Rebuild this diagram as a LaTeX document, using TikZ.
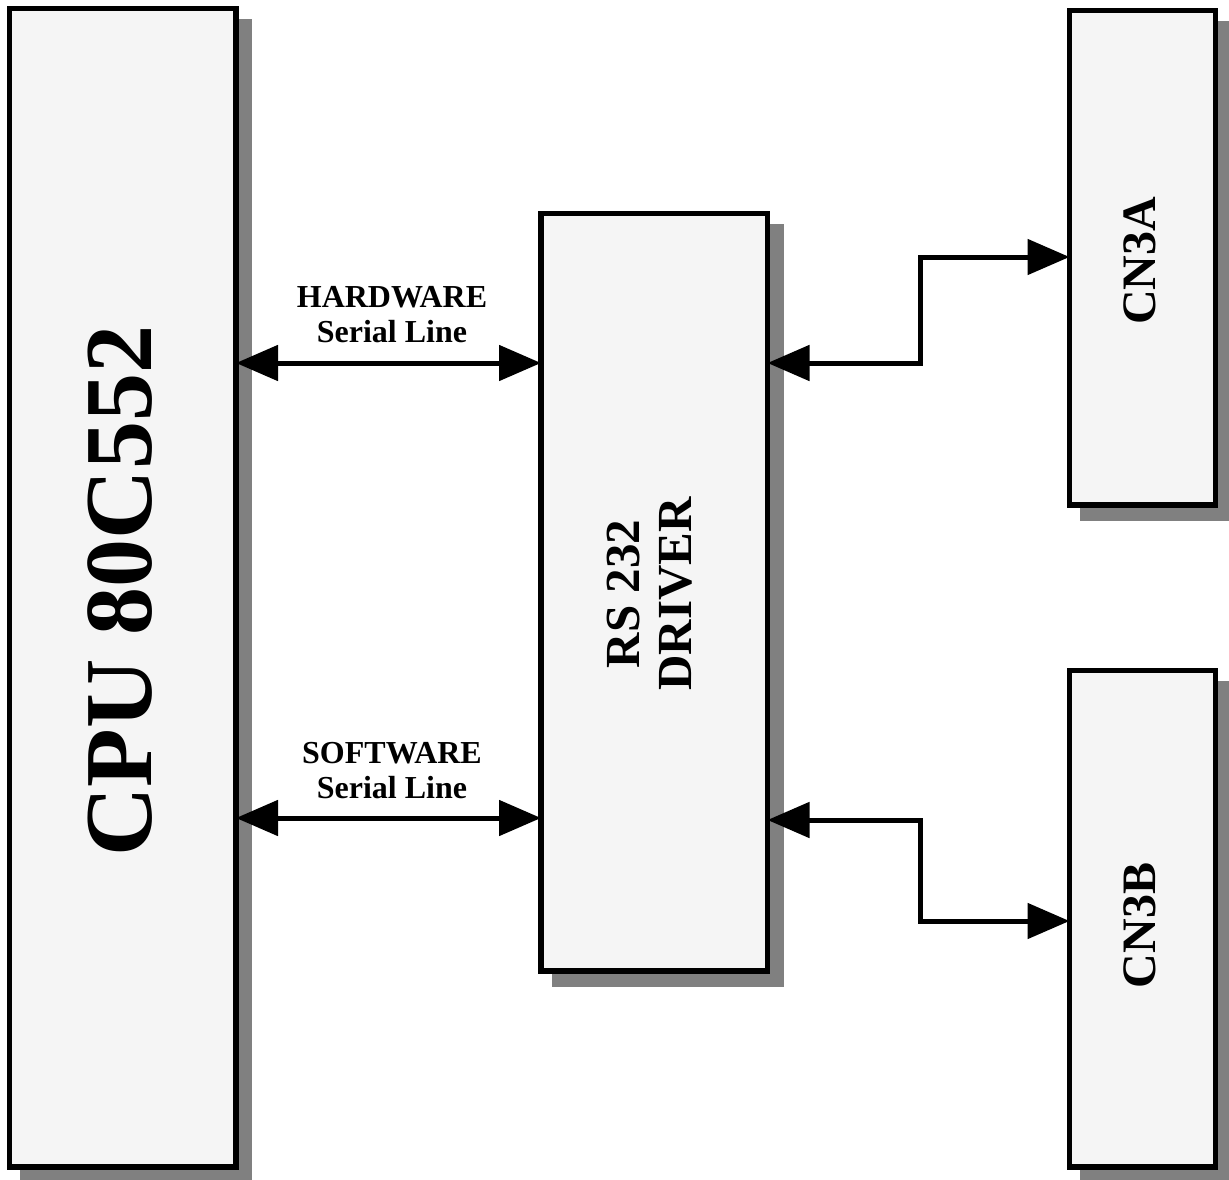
\documentclass[tikz,border=0pt]{standalone}
\usepackage{fontspec}
\setmainfont{Liberation Serif}
\usetikzlibrary{arrows.meta,backgrounds}
\definecolor{boxfill}{HTML}{F5F5F5}
\definecolor{shadowgray}{HTML}{808080}
\begin{document}
\begin{tikzpicture}[x=1pt,y=-1pt,
  box/.style={draw=black, line width=5.5pt, fill=boxfill, inner sep=0pt, outer sep=0pt},
  shade/.style={fill=shadowgray},
  conn/.style={line width=5pt, {Triangle[length=42pt,width=35pt]}-{Triangle[length=42pt,width=35pt]}},
  lbl/.style={inner sep=0pt, align=center}]
\useasboundingbox (0,0) rectangle (1229,1180);
% boxes
\node[box, minimum width=226.5pt, minimum height=1158.5pt] (cpu) at (122.75,587.75) {};
\node[box, minimum width=226.5pt, minimum height=757.5pt] (rs) at (654.25,592.25) {};
\node[box, minimum width=146pt, minimum height=494.5pt] (cna) at (1142.5,257.75) {};
\node[box, minimum width=146pt, minimum height=496.5pt] (cnb) at (1142.5,918.75) {};
% shadows
\begin{scope}[on background layer]
  \foreach \n in {cpu,rs,cna,cnb}
    \fill[shade] ([shift={(10.75,10.75)}]\n.north west) rectangle ([shift={(16.25,16.25)}]\n.south east);
\end{scope}
% texts
\node[lbl, rotate=90, font=\bfseries\fontsize{96}{100}\selectfont] (cputxt) at (120,591) {CPU 80C552};
\node[lbl, rotate=90, font=\bfseries\fontsize{49}{52}\selectfont] (rstxt) at (650,594) {RS 232\\DRIVER};
\node[lbl, rotate=90, font=\bfseries\fontsize{48}{52}\selectfont] (cnatxt) at (1140,261) {CN3A};
\node[lbl, rotate=90, font=\bfseries\fontsize{48}{52}\selectfont] (cnbtxt) at (1140,925.5) {CN3B};
\node[lbl, font=\bfseries\fontsize{32}{35}\selectfont] (hw) at (392,314.5) {HARDWARE\\Serial Line};
\node[lbl, font=\bfseries\fontsize{32}{35}\selectfont] (sw) at (392,770.5) {SOFTWARE\\Serial Line};
% connectors
\draw[conn] (cpu.east |- 0,363) -- (rs.west |- 0,363);
\draw[conn] (cpu.east |- 0,818) -- (rs.west |- 0,818);
\draw[conn] (rs.east |- 0,363) -- (920,363) |- (cna.west |- 0,257);
\draw[conn] (rs.east |- 0,820) -- (920,820) |- (cnb.west |- 0,921);
\end{tikzpicture}
\end{document}
